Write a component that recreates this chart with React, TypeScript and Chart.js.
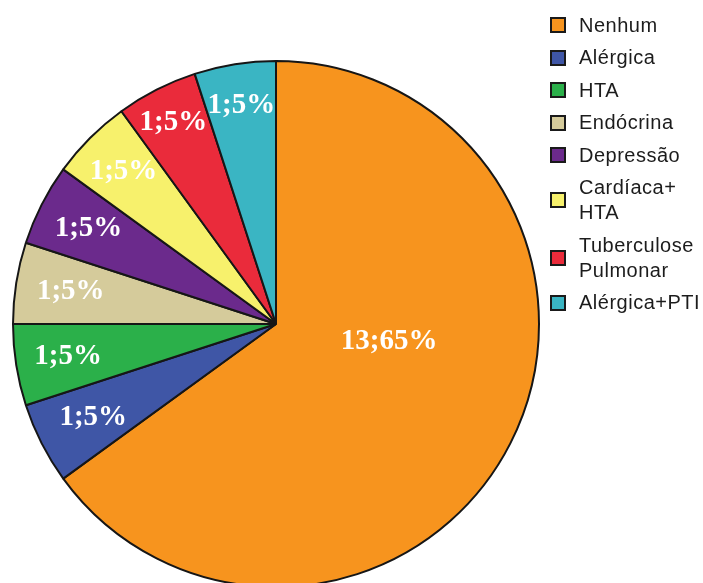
import React, { useEffect, useRef } from "react";
import { Chart, registerables } from "chart.js";

Chart.register(...registerables);

const categories = [
  "Nenhum",
  "Alérgica",
  "HTA",
  "Endócrina",
  "Depressão",
  "Cardíaca+ HTA",
  "Tuberculose Pulmonar",
  "Alérgica+PTI",
];
const legendLines = [
  ["Nenhum"],
  ["Alérgica"],
  ["HTA"],
  ["Endócrina"],
  ["Depressão"],
  ["Cardíaca+", "HTA"],
  ["Tuberculose", "Pulmonar"],
  ["Alérgica+PTI"],
];
const counts = [13, 1, 1, 1, 1, 1, 1, 1];
const percents = [65, 5, 5, 5, 5, 5, 5, 5];
const colors = [
  "#F7941E",
  "#3F56A6",
  "#2BB04A",
  "#D5CB9B",
  "#6B2A8C",
  "#F7F16C",
  "#EA2B3B",
  "#3AB5C3",
];
const labelRadius = [0.435, 0.78, 0.8, 0.79, 0.8, 0.82, 0.86, 0.84];
const labelAngleShift = [-18.4, 0, 0, 0, 0, 0, 0, 0];

const labelPlugin = {
  id: "sliceLabels",
  afterDatasetsDraw(chart: any) {
    const ctx = chart.ctx;
    const meta = chart.getDatasetMeta(0);
    meta.data.forEach((arc: any, i: number) => {
      const { x, y, startAngle, endAngle, outerRadius } = arc.getProps(
        ["x", "y", "startAngle", "endAngle", "outerRadius"],
        true
      );
      const mid = (startAngle + endAngle) / 2 + (labelAngleShift[i] * Math.PI) / 180;
      const r = outerRadius * labelRadius[i];
      ctx.save();
      ctx.font = "bold 29px 'Liberation Serif', 'Times New Roman', serif";
      ctx.fillStyle = "#ffffff";
      ctx.textAlign = "center";
      ctx.textBaseline = "middle";
      ctx.fillText(
        `${counts[i]};${percents[i]}%`,
        x + Math.cos(mid) * r,
        y + Math.sin(mid) * r
      );
      ctx.restore();
    });
  },
};

export default function App() {
  const ref = useRef<HTMLCanvasElement | null>(null);

  useEffect(() => {
    if (!ref.current) return;
    const chart = new Chart(ref.current, {
      type: "pie",
      data: {
        labels: categories,
        datasets: [
          {
            data: counts,
            backgroundColor: colors,
            borderColor: "#161616",
            borderWidth: 2,
          },
        ],
      },
      options: {
        responsive: false,
        animation: false,
        layout: { padding: { left: 12, top: 60, right: 163, bottom: 12 } },
        plugins: {
          legend: { display: false },
          tooltip: { enabled: false },
        },
      },
      plugins: [labelPlugin],
    });
    return () => chart.destroy();
  }, []);

  return (
    <div
      style={{
        position: "fixed",
        left: 0,
        top: 0,
        width: 703,
        height: 583,
        overflow: "hidden",
        background: "#fff",
      }}
    >
      <canvas ref={ref} width={703} height={600} style={{ position: "absolute", left: 0, top: 0 }} />
      <div
        style={{
          position: "absolute",
          left: 550,
          top: 12.5,
          display: "flex",
          flexDirection: "column",
          gap: 7.5,
          fontFamily: "'Liberation Sans', Arial, sans-serif",
          fontSize: 20,
          lineHeight: "25px",
          letterSpacing: 0.5,
          color: "#1c1c1c",
        }}
      >
        {legendLines.map((lines, i) => (
          <div key={i} style={{ display: "flex", alignItems: "center" }}>
            <div
              style={{
                width: 16,
                height: 16,
                boxSizing: "border-box",
                border: "2px solid #1a1a1a",
                background: colors[i],
                marginRight: 13,
                flex: "none",
              }}
            />
            <div>
              {lines.map((l, j) => (
                <div key={j} style={{ whiteSpace: "nowrap" }}>
                  {l}
                </div>
              ))}
            </div>
          </div>
        ))}
      </div>
    </div>
  );
}
